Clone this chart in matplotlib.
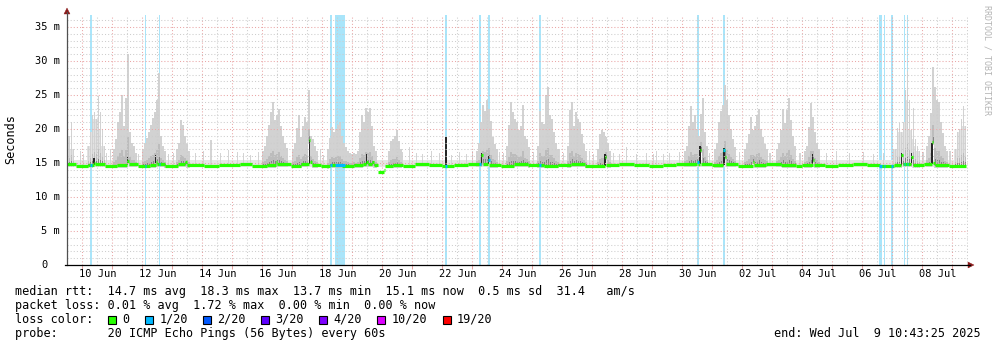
import matplotlib
matplotlib.use("Agg")
import matplotlib.pyplot as plt
import numpy as np
from matplotlib.patches import Rectangle, Polygon
from matplotlib.lines import Line2D

plt.rcParams["font.family"] = ["DejaVu Sans Mono", "DejaVu Sans"]

# ---------------------------------------------------------------
# data: time in days since 9 Jun 2025 00:00, latency in ms
# ---------------------------------------------------------------
view_start, view_end = 0.49, 30.52
data_end = 30.447

# median rtt, step changes (value holds until the next entry)
median_days = [0.45, 0.80, 1.20, 1.38, 1.43, 1.75, 2.15, 2.49, 2.54, 2.85,
               3.25, 3.44, 3.49, 3.75, 4.20, 4.43, 4.48, 5.05, 5.55, 6.25,
               6.65, 7.15, 7.44, 7.49, 7.95, 8.30, 8.55, 8.60, 8.66, 8.95,
               9.25, 9.65, 10.05, 10.35, 10.47, 10.52, 10.66, 10.71, 10.84, 10.87,
               11.05, 11.09, 11.35, 11.70, 12.10, 12.55, 13.00, 13.40, 13.85, 14.30,
               14.34, 14.52, 14.57, 14.95, 15.40, 15.85, 16.40, 16.85, 17.30, 17.75,
               18.41, 18.46, 18.90, 19.40, 19.90, 20.35, 20.80, 21.48, 21.53, 21.58,
               21.63, 22.00, 22.37, 22.42, 22.47, 22.85, 23.34, 23.39, 23.80, 24.30,
               24.80, 25.00, 25.34, 25.39, 25.75, 26.20, 26.70, 27.15, 27.60, 28.05,
               28.30, 28.35, 28.63, 28.68, 29.05, 29.31, 29.36, 29.41, 29.90, 30.447]
median_ms = [14.8, 14.6, 14.7, 15.0, 14.8, 14.6, 14.7, 15.3, 14.8, 14.6,
             14.7, 15.1, 14.8, 14.6, 14.8, 15.2, 14.7, 14.6, 14.7, 14.8,
             14.6, 14.7, 15.2, 14.8, 14.6, 14.8, 18.4, 15.2, 14.7, 14.5,
             14.7, 14.6, 14.7, 14.8, 15.2, 14.8, 15.2, 14.7, 13.9, 13.7,
             14.0, 14.6, 14.7, 14.6, 14.8, 14.7, 14.6, 14.7, 14.8, 16.2,
             14.9, 15.5, 14.7, 14.6, 14.8, 14.7, 14.6, 14.7, 14.8, 14.6,
             15.9, 14.7, 14.8, 14.7, 14.6, 14.7, 14.8, 15.2, 14.8, 16.9,
             14.9, 14.7, 16.9, 15.9, 14.8, 14.6, 15.2, 14.7, 14.8, 14.7,
             14.5, 14.7, 15.4, 14.7, 14.6, 14.7, 14.8, 14.7, 14.6, 14.7,
             16.1, 14.8, 15.9, 14.7, 14.8, 18.1, 15.0, 14.7, 14.6, 14.6]

# smoke: groups of consecutive columns, (first column day, highest ping per column)
smoke_col = 1 / 15
smoke_clusters = [
    (0.46, [25.0, 19.0, 21.0, 17.0]),
    (1.16, [17.5, 19.5, 22.0, 22.5, 21.5, 24.8, 22.5, 20.0, 17.5]),
    (2.023, [17.0, 18.5, 21.0, 22.5, 25.0, 20.5, 24.5, 31.0, 19.5, 18.0, 17.5, 16.5]),
    (2.99, [17.0, 18.0, 18.7, 19.5, 20.6, 21.6, 22.5, 24.3, 28.2, 19.0, 17.5, 16.8]),
    (4.123, [17.0, 18.0, 21.3, 20.6, 19.0, 17.8, 16.8]),
    (6.99, [16.8, 17.5, 19.0, 20.6, 22.5, 24.0, 21.3, 22.0, 23.0, 20.5, 19.0, 18.0, 17.2]),
    (7.99, [17.0, 18.0, 20.1, 22.0, 18.8, 20.5, 21.8, 21.0, 25.7, 19.0, 18.5, 17.5, 16.8]),
    (9.157, [17.0, 18.7, 20.3, 19.5, 20.0, 20.6, 21.0, 19.0, 18.0, 17.4, 16.8, 16.5, 16.3,
             16.4, 16.3, 16.8, 19.5, 22.0, 21.0, 23.1, 22.5, 23.1, 20.5, 17.5, 16.8]),
    (11.19, [16.8, 18.2, 18.5, 18.9, 19.8, 18.2, 17.0]),
    (14.123, [16.8, 17.9, 21.0, 23.5, 22.6, 24.2, 23.0, 21.2, 18.8, 17.8, 17.0]),
    (15.123, [17.5, 20.6, 24.0, 22.5, 21.5, 21.0, 19.8, 20.5, 23.5, 19.0, 18.5, 17.3]),
    (16.157, [17.5, 22.6, 21.0, 20.8, 25.0, 26.2, 22.0, 21.5, 19.5, 18.0, 17.0]),
    (17.157, [17.5, 22.8, 24.0, 20.5, 22.5, 21.5, 21.0, 19.3, 17.8, 16.8]),
    (18.157, [17.0, 19.2, 19.8, 19.5, 18.8, 17.9, 16.8]),
    (21.057, [16.8, 17.5, 20.5, 23.3, 21.0, 22.0, 20.0, 19.0, 22.2, 24.5, 19.5, 17.5]),
    (22.057, [17.0, 18.0, 21.0, 22.7, 23.5, 26.5, 24.3, 22.0, 20.0, 18.5, 17.3]),
    (23.057, [17.0, 18.0, 19.3, 21.8, 19.9, 20.5, 22.0, 23.0, 20.0, 18.8, 17.8, 17.0]),
    (24.123, [17.0, 18.0, 19.9, 23.0, 20.9, 22.8, 24.5, 21.3, 19.0, 17.5]),
    (25.057, [16.8, 17.5, 20.3, 23.8, 21.8, 19.5, 18.0, 17.0]),
    (28.057, [17.0, 20.1, 20.9, 19.5, 21.0, 25.7, 28.4, 24.3, 19.8, 23.1, 18.5, 17.5, 16.8]),
    (29.123, [17.5, 19.0, 22.3, 29.1, 26.2, 24.3, 24.0, 21.0, 19.4, 17.5, 16.8]),
    (30.057, [17.0, 19.5, 20.0, 21.5, 23.3, 20.5]),
]

# isolated low smoke needles between the evening clusters
fuzz_days = [0.94, 1.05, 1.82, 1.94, 2.88, 3.88, 4.05, 4.77, 5.05, 5.29, 5.61, 5.88,
             6.16, 6.38, 6.61, 6.88, 8.94, 9.05, 11.68, 11.92, 12.14, 12.35, 12.64,
             12.92, 13.31, 13.58, 13.81, 14.02, 14.92, 15.03, 16.03, 16.92, 17.03,
             17.92, 18.03, 18.69, 18.92, 19.14, 19.47, 19.81, 20.03, 20.14, 20.36,
             20.58, 20.92, 21.92, 22.92, 23.92, 24.92, 25.81, 26.14, 26.58, 27.03,
             27.36, 27.69, 28.03, 29.02, 29.92]
fuzz_ms = [16.8, 16.3, 16.5, 17.0, 16.3, 16.3, 16.5, 16.5, 16.8, 18.4, 16.5, 16.9,
           16.6, 16.4, 16.2, 16.6, 17.0, 16.2, 16.6, 17.3, 16.5, 16.3, 16.7,
           16.4, 16.2, 16.6, 16.3, 16.8, 16.6, 16.4, 16.6, 17.0, 16.5,
           16.7, 16.3, 16.5, 16.3, 17.4, 16.3, 16.5, 16.3, 16.7, 16.3,
           16.4, 16.6, 16.4, 16.6, 16.5, 16.4, 16.5, 16.8, 16.4, 16.6,
           16.3, 16.5, 17.0, 16.6, 16.8]

# columns where most pings sat well above the median (dense dark smoke)
dense_days = [1.39, 2.50, 3.45, 8.56, 10.48, 13.12, 14.31, 14.53, 18.42,
              21.59, 22.39, 25.35, 28.31, 28.65, 29.32]
dense_ms = [15.8, 16.0, 16.2, 18.4, 16.3, 18.8, 16.5, 16.0, 16.3,
            17.5, 17.2, 16.3, 16.4, 16.5, 18.0]

# intervals with packet loss (1/20)
loss_start = [1.265, 3.08, 3.54, 9.265, 9.43, 13.095, 14.235, 14.535, 16.235,
              21.495, 22.365, 27.56, 27.705, 27.955, 28.385, 28.475]
loss_end = [1.315, 3.13, 3.59, 9.315, 9.76, 13.145, 14.285, 14.585, 16.285,
            21.545, 22.415, 27.64, 27.755, 28.005, 28.435, 28.525]

label_days = [1, 3, 5, 7, 9, 11, 13, 15, 17, 19, 21, 23, 25, 27, 29]
date_labels = ["10 Jun", "12 Jun", "14 Jun", "16 Jun", "18 Jun", "20 Jun", "22 Jun",
               "24 Jun", "26 Jun", "28 Jun", "30 Jun", "02 Jul", "04 Jul", "06 Jul",
               "08 Jul"]
y_ticks = [0, 5, 10, 15, 20, 25, 30, 35]

rtt_line = "median rtt:  14.7 ms avg  18.3 ms max  13.7 ms min  15.1 ms now  0.5 ms sd  31.4   am/s"
loss_line = "packet loss: 0.01 % avg  1.72 % max  0.00 % min  0.00 % now"
probe_line = "probe:       20 ICMP Echo Pings (56 Bytes) every 60s"
end_line = "end: Wed Jul  9 10:43:25 2025"
loss_levels = ["0", "1/20", "2/20", "3/20", "4/20", "10/20", "19/20"]
loss_colors = ["#26ff00", "#00b8ff", "#0059ff", "#5e00ff", "#7e00ff", "#dd00ff", "#ff0000"]

# ---------------------------------------------------------------
W, H = 997, 347
fig = plt.figure(figsize=(W / 100, H / 100), dpi=100)
fig.patch.set_facecolor("white")
ax_l, ax_r, ax_t, ax_b = 67, 968, 15, 265
ax = fig.add_axes([ax_l / W, (H - ax_b) / H, (ax_r - ax_l) / W, (ax_b - ax_t) / H])
ax.set_xlim(view_start, view_end)
ax.set_ylim(0, 36.75)
for s in ax.spines.values():
    s.set_visible(False)


def px(x, y):
    return x / W, 1 - y / H


def median_at(d):
    i = np.searchsorted(median_days, d, side="right") - 1
    return median_ms[min(max(i, 0), len(median_ms) - 1)]


# loss background
for s, e in zip(loss_start, loss_end):
    ax.axvspan(s, e, color="#a9e5fa", lw=0, zorder=0.8)

# low smoke band along the median
band_x = np.array([median_days[0], data_end])
ax.fill_between(band_x, 14.35, 15.4, color="#e6e6e6", lw=0, zorder=1.0)

# smoke columns: a pale body up to the lower neighbour, a needle up to the column's own top
col_x, col_top, col_med, col_body = [], [], [], []
for start, tops in smoke_clusters:
    for i, top in enumerate(tops):
        d = start + i * smoke_col
        if d >= data_end:
            continue
        nb = min(tops[max(i - 1, 0)], tops[min(i + 1, len(tops) - 1)], top)
        col_x.append(d)
        col_top.append(top)
        col_body.append(nb)
        col_med.append(median_at(d + smoke_col / 2))
col_x = np.array(col_x)
col_top = np.array(col_top)
col_med = np.array(col_med)
col_body = np.array(col_body)
spread = col_top - col_med
ax.bar(col_x, col_body - (col_med - 0.4), bottom=col_med - 0.4, width=smoke_col,
       align="edge", color="#e2e2e2", lw=0, zorder=1.1)
ax.bar(col_x + smoke_col * 0.2, col_top - (col_med - 0.4), bottom=col_med - 0.4,
       width=smoke_col * 0.6, align="edge", color="#d2d2d2", lw=0, zorder=1.12)
ax.bar(col_x + smoke_col * 0.2, 0.22 * spread + 0.2, bottom=col_med - 0.2,
       width=smoke_col * 0.6, align="edge", color="#bcbcbc", lw=0, zorder=1.2)
ax.bar(col_x + smoke_col * 0.3, 0.08 * spread + 0.1, bottom=col_med - 0.1,
       width=smoke_col * 0.45, align="edge", color="#858585", lw=0, zorder=1.3)

fz_med = np.array([median_at(d) for d in fuzz_days])
ax.bar(fuzz_days, np.array(fuzz_ms) - fz_med, bottom=fz_med, width=0.035,
       color="#d4d4d4", lw=0, zorder=1.15)

dn_med = np.array([median_at(d - 0.06) for d in dense_days])
ax.bar(dense_days, np.array(dense_ms) - dn_med, bottom=dn_med, width=0.04,
       color="#262626", lw=0, zorder=1.4)

# grid: days / 12 h, 5 ms / 1 ms
ax.set_xticks(np.arange(1, 31))
ax.set_xticks(np.arange(0.5, 30.6, 0.5), minor=True)
ax.set_yticks(np.arange(0, 36, 5))
ax.set_yticks(np.arange(0, 37, 1), minor=True)
ax.tick_params(which="both", length=0, labelbottom=False, labelleft=False)
ax.tick_params(axis="x", which="major", length=3, color="#e6a2a2", width=0.75)
ax.set_axisbelow(False)
ax.grid(which="major", color="#eaa6a6", linestyle=(0, (1, 2)), lw=0.75)
ax.grid(which="minor", color="#cdcdcd", linestyle=(0, (1, 2)), lw=0.75)

# median line (horizontal steps)
md = np.array(median_days)
mv = np.array(median_ms)
ax.hlines(mv[:-1], md[:-1], md[1:], colors=loss_colors[0], lw=2.3, zorder=3)
for s, e in zip(loss_start, loss_end):
    ax.hlines(median_at((s + e) / 2), s, e, colors=loss_colors[1], lw=2.3, zorder=3.1)

# axes lines with arrows
fig.add_artist(Line2D([px(ax_l, ax_b)[0], px(ax_l, 12)[0]],
                      [px(ax_l, ax_b)[1], px(ax_l, 12)[1]], color="#505050", lw=0.9))
fig.add_artist(Line2D([px(ax_l - 2, ax_b)[0], px(970, ax_b)[0]],
                      [px(ax_l, ax_b)[1], px(970, ax_b)[1]], color="black", lw=0.9))
arrow_c = "#8b1a1a"
fig.add_artist(Polygon([px(ax_l - 3, 14), px(ax_l + 3, 14), px(ax_l, 8)], closed=True,
                       transform=fig.transFigure, fc=arrow_c, ec=arrow_c, lw=0.3))
fig.add_artist(Polygon([px(968, ax_b - 3), px(968, ax_b + 3), px(974, ax_b)], closed=True,
                       transform=fig.transFigure, fc=arrow_c, ec=arrow_c, lw=0.3))

# axis labels
tick_fs = 7.5
char_w_tick = tick_fs / 72 * 100 * 0.602
ytr = ax.get_yaxis_transform()
for v in y_ticks:
    if v == 0:
        ax.text(-(ax_l - 60 + 2 * char_w_tick) / (ax_r - ax_l), v, "0", transform=ytr,
                ha="right", va="center", fontsize=tick_fs)
    else:
        ax.text(-(ax_l - 60) / (ax_r - ax_l), v, f"{v} m", transform=ytr,
                ha="right", va="center", fontsize=tick_fs)
xtr = ax.get_xaxis_transform()
for d, lab in zip(label_days, date_labels):
    ax.text(d + 0.5, -(274 - ax_b) / (ax_b - ax_t), lab, transform=xtr,
            ha="center", va="center", fontsize=tick_fs)

fig.text(*px(11, 139), "Seconds", rotation=90, ha="center", va="center", fontsize=8.5)
fig.text(*px(987, 60), "RRDTOOL / TOBI OETIKER", rotation=270, ha="center", va="center",
         fontsize=6, color="#b4b4b4")

# legend block
leg_fs = 8.5
char_w = leg_fs / 72 * 100 * 0.602
x0 = 15
fig.text(*px(x0, 291.5), rtt_line, ha="left", va="center", fontsize=leg_fs)
fig.text(*px(x0, 305.5), loss_line, ha="left", va="center", fontsize=leg_fs)
fig.text(*px(x0, 319.5), "loss color:", ha="left", va="center", fontsize=leg_fs)
fig.text(*px(x0, 333.2), probe_line, ha="left", va="center", fontsize=leg_fs)
fig.text(*px(981, 333.2), end_line, ha="right", va="center", fontsize=leg_fs)

bx = 108.0
for lab, c in zip(loss_levels, loss_colors):
    fig.add_artist(Rectangle(px(bx, 324), 8 / W, 8 / H, transform=fig.transFigure,
                             fc=c, ec="black", lw=0.8))
    fig.text(*px(bx + 14.5, 319.5), lab, ha="left", va="center", fontsize=leg_fs)
    bx += 14.5 + len(lab) * char_w + 15.2

fig.savefig("out.png", dpi=100, facecolor="white")
